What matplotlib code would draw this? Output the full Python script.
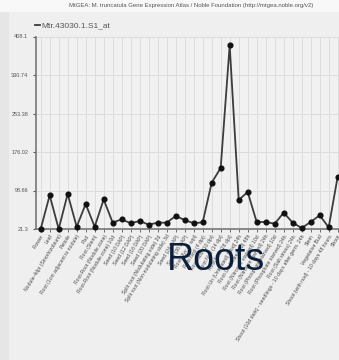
import numpy as np
import matplotlib.pyplot as plt
from matplotlib.patches import Rectangle

# Expression values of probe set Mtr.43030.1.S1_at across MtGEA samples
samples = [
    "Flower", "Leaf", "Nodule-4dpi (Sinorhizobium)", "Petiole",
    "Root (1cm adjacent to nodule)", "Pod", "Root (Stem)",
    "Root-Root (Nodule zone)", "Root-Root (Nodule zone) 10d",
    "Seed (10 DAP)", "Seed (12 DAP)", "Seed (16 DAP)", "Seed (20 DAP)",
    "Split root (Nodulating side) 3d", "Split root (Non-nodulating side) 3d",
    "Seed (24 DAP)", "Seed (36 DAP)", "Root Myc (4 wpi)", "Root Nod (4 dpi)",
    "Root Nod (10 dpi)", "Root Nod (14 dpi)", "Root Nod (28 dpi)",
    "Root-Un (Untreated) [Nod] 24h", "Root-Un (Untreated) 48h",
    "Root (Nitrogen starved) 10d", "Root (Nitrogen starved) 24h",
    "Root (Phosphate starved) 10d", "Root (Phosphate starved) 24h",
    "Root (Salt stress) 24h",
    "Shoot (10d dark) - seedlings - 10 days after germ. 24h",
    "Stem", "Vegetative Bud", "Shoot (with nod) - 10 days 48 hours",
    "Shoot",
]
values = [
    21.3, 89.0, 21.3, 91.6, 25.9, 71.5, 25.9, 80.6, 34.0, 40.8,
    32.8, 37.4, 30.0, 34.0, 34.0, 47.4, 39.4, 32.8, 34.8, 114.3,
    143.9, 390.4, 79.6, 95.6, 35.4, 35.4, 31.9, 54.1, 34.0, 23.3,
    35.4, 48.8, 24.7, 126.4,
]
y_ticks = [21.3, 98.66, 176.02, 253.38, 330.74, 408.1]
y_tick_labels = ["21.3", "98.66", "176.02", "253.38", "330.74", "408.1"]

plt.rcParams["font.family"] = ["Liberation Sans", "DejaVu Sans"]

W, H = 339, 360
fig = plt.figure(figsize=(W / 100, H / 100), dpi=100)
fig.patch.set_facecolor("#efefef")
# light header band and darker left frame
fig.patches.append(Rectangle((0, 1 - 12 / H), 1, 12 / H, transform=fig.transFigure,
                             facecolor="#f8f8f8", edgecolor="none", zorder=0))
fig.patches.append(Rectangle((0, 0), 9 / W, 1 - 12 / H, transform=fig.transFigure,
                             facecolor="#e6e6e6", edgecolor="none", zorder=0))

x = np.arange(len(values))
step = 9.0
x0 = -0.52
x1 = 34.5
left_px, top_px, bottom_px = 36, 36.5, 229
ax = fig.add_axes([left_px / W, 1 - bottom_px / H,
                   (x1 - x0) * step / W, (bottom_px - top_px) / H])
ax.set_facecolor("#f1f1f1")

ax.plot(x, values, color="#3c3c3c", linewidth=1.3, marker="o",
        markersize=3.4, markerfacecolor="#111111", markeredgecolor="#111111",
        label="Mtr.43030.1.S1_at", clip_on=False, zorder=3)

ax.set_xlim(x0, x1)
ax.set_ylim(21.3, 408.1)
ax.set_yticks(y_ticks)
ax.set_yticklabels(y_tick_labels)
ax.set_xticks(x)
ax.set_xticklabels(samples, rotation=58, ha="right", va="top",
                   rotation_mode="anchor", fontsize=3.7, color="#4a4a4a")
ax.tick_params(axis="y", labelsize=4, colors="#555555", length=2, width=0.8)
ax.tick_params(axis="x", length=2, width=0.6, colors="#555555", pad=1.5)
for lbl in ax.get_xticklabels():
    lbl.set_color("#4a4a4a")

ax.grid(True, color="#dcdcdc", linewidth=0.7)
ax.set_axisbelow(True)
for side in ["top", "right"]:
    ax.spines[side].set_visible(False)
for side in ["left", "bottom"]:
    ax.spines[side].set_color("#777777")
    ax.spines[side].set_linewidth(1.2)

fig.text(191 / W, 1 - 5 / H,
         "MtGEA: M. truncatula Gene Expression Atlas / Noble Foundation (http://mtgea.noble.org/v2)",
         ha="center", va="center", fontsize=4.3, color="#555555")

ax.legend(loc="lower left", bbox_to_anchor=(27 / W, 1 - 37 / H), bbox_transform=fig.transFigure,
          frameon=False, fontsize=6, handlelength=0.6, handletextpad=0.2,
          labelcolor="#555555", markerscale=0)

fig.text(167 / W, 1 - 270 / H, "Roots", fontsize=27, color="#0b1f3a",
         ha="left", va="baseline")

fig.savefig("out.png", dpi=100, facecolor=fig.get_facecolor())
